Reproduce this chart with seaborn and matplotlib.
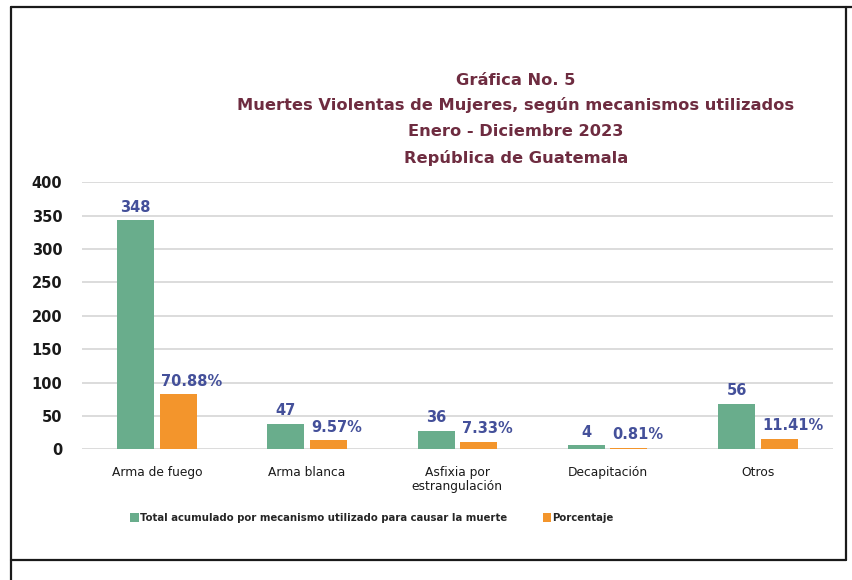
import matplotlib
matplotlib.use("Agg")
import matplotlib.pyplot as plt
import seaborn as sns
import pandas as pd
from matplotlib.lines import Line2D
from matplotlib.patches import Patch

# ---- data ----
categories = ["Arma de fuego", "Arma blanca", "Asfixia por\nestrangulación", "Decapitación", "Otros"]
total_labels = ["348", "47", "36", "4", "56"]
pct_labels = ["70.88%", "9.57%", "7.33%", "0.81%", "11.41%"]
# bar heights as drawn in the reference picture
total_heights = [343, 38, 28, 6, 68]
pct_heights = [82.5, 13.6, 11.6, 2.5, 15.6]
series_names = ["Total acumulado por mecanismo utilizado para causar la muerte", "Porcentaje"]
yticks = [0, 50, 100, 150, 200, 250, 300, 350, 400]
title_lines = ["Gráfica No. 5",
               "Muertes Violentas de Mujeres, según mecanismos utilizados",
               "Enero - Diciembre 2023",
               "República de Guatemala"]

GREEN = "#69ad8c"
ORANGE = "#f3952c"
LABEL_C = "#44509a"
TITLE_C = "#6e2c40"

df = pd.DataFrame({
    "cat": categories * 2,
    "val": total_heights + pct_heights,
    "series": [series_names[0]] * 5 + [series_names[1]] * 5,
})

sns.set_theme(style="white")
plt.rcParams["font.family"] = ["DejaVu Sans"]

fig = plt.figure(figsize=(8.52, 5.80), dpi=100)
ax = fig.add_axes([0.0959, 0.2253, 0.8818, 0.4604])

sns.barplot(data=df, x="cat", y="val", hue="series", palette=[GREEN, ORANGE],
            width=0.567, gap=0.13, ax=ax, legend=False, saturation=1,
            linewidth=0, edgecolor="none")

ax.set_ylim(0, 400)
ax.set_xlim(-0.5, 4.5)
ax.set_yticks(yticks)
ax.set_yticklabels([str(t) for t in yticks], fontsize=10.5, fontweight="bold", color="#1a1a1a")
ax.tick_params(axis="y", length=0, pad=14)
ax.tick_params(axis="x", length=0, pad=12, labelsize=8.8, labelcolor="#1a1a1a")
ax.set_xlabel("")
ax.set_ylabel("")
for lab in ax.get_xticklabels():
    lab.set_linespacing(1.1)
ax.grid(axis="y", color="#d9d9d9", linewidth=1.3)
ax.set_axisbelow(True)
for s in ax.spines.values():
    s.set_visible(False)

# value labels
for bar, txt in zip(ax.containers[0], total_labels):
    ax.annotate(txt, (bar.get_x() + bar.get_width() / 2, bar.get_height()),
                xytext=(0, 4), textcoords="offset points", ha="center", va="bottom",
                fontsize=10.5, fontweight="bold", color=LABEL_C)
for bar, txt in zip(ax.containers[1], pct_labels):
    ax.annotate(txt, (bar.get_x(), bar.get_height()),
                xytext=(1, 4), textcoords="offset points", ha="left", va="bottom",
                fontsize=10.5, fontweight="bold", color=LABEL_C)

# title
title_y = [80, 105, 132, 158]
for line, yp in zip(title_lines, title_y):
    fig.text(516 / 852, 1 - yp / 580, line, ha="center", va="center",
             fontsize=11.7, fontweight="bold", color=TITLE_C)

# legend
handles = [Patch(facecolor=GREEN, edgecolor="none"), Patch(facecolor=ORANGE, edgecolor="none")]
fig.legend(handles, series_names, loc="center", bbox_to_anchor=(372 / 852, 1 - 518 / 580),
           ncol=2, frameon=False, handlelength=0.8, handleheight=1.0, handletextpad=0.1,
           columnspacing=3.6, prop={"size": 7.3, "weight": "bold"})

# frame lines
lw = 1.6
fig.add_artist(Line2D([11 / 852, 1.0], [1 - 7 / 580] * 2, transform=fig.transFigure, color="#1a1a1a", lw=lw))
fig.add_artist(Line2D([11 / 852] * 2, [0.0, 1 - 7 / 580], transform=fig.transFigure, color="#1a1a1a", lw=lw))
fig.add_artist(Line2D([846 / 852] * 2, [1 - 560 / 580, 1 - 7 / 580], transform=fig.transFigure, color="#1a1a1a", lw=lw))
fig.add_artist(Line2D([11 / 852, 846 / 852], [1 - 560 / 580] * 2, transform=fig.transFigure, color="#1a1a1a", lw=lw))

fig.savefig("out.png", dpi=100)
